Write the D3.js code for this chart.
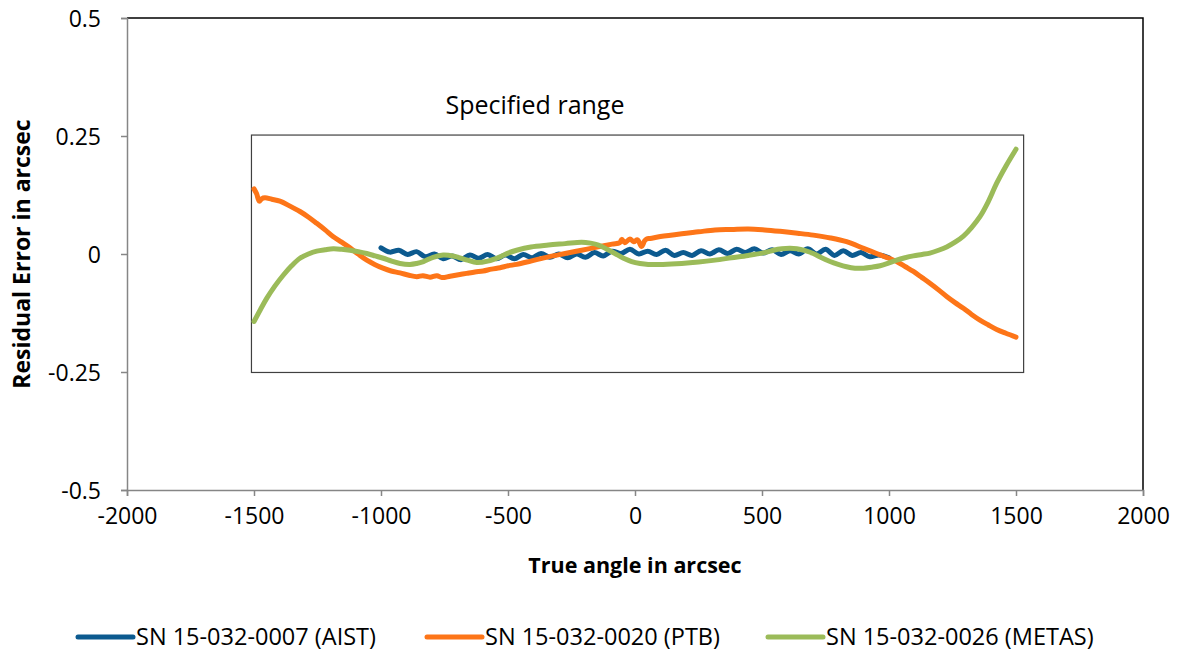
<!DOCTYPE html>
<html>
<head>
<meta charset="utf-8">
<script src="https://cdn.jsdelivr.net/npm/d3@7"></script>
<style>
  body { margin: 0; background: #fff; }
  svg { font-family: "Open Sans", sans-serif; }
</style>
</head>
<body>
<div id="chart"></div>
<script>
// Residual error curves, [true angle (arcsec), residual (arcsec)]
const aist = [
  [-1000, 0.013], [-965, 0.004], [-930, 0.008], [-895, -0.001], [-860, 0.005], [-825, -0.006],
  [-790, 0.000], [-755, -0.010], [-720, -0.004], [-685, -0.012], [-650, -0.002], [-615, -0.009],
  [-580, -0.001], [-545, -0.010], [-510, -0.002], [-475, -0.010], [-440, -0.001], [-405, -0.008],
  [-370, 0.001], [-335, -0.007], [-300, 0.000], [-265, -0.008], [-230, 0.000], [-195, -0.007],
  [-160, 0.003], [-125, -0.004], [-90, 0.006], [-55, 0.001], [-20, 0.010], [15, 0.000],
  [50, 0.006], [85, -0.001], [120, 0.008], [155, -0.003], [190, 0.003], [225, -0.003],
  [260, 0.007], [295, 0.000], [330, 0.009], [365, 0.001], [400, 0.010], [435, 0.003],
  [470, 0.011], [505, 0.002], [540, 0.009], [575, -0.001], [610, 0.007], [645, 0.000],
  [680, 0.011], [715, 0.000], [750, 0.010], [785, -0.003], [820, 0.007], [855, -0.003],
  [890, 0.003], [925, -0.006], [960, -0.002], [1000, -0.008]
];
const ptb = [
  [-1500, 0.138], [-1490, 0.128], [-1479, 0.112], [-1470, 0.117], [-1457, 0.119], [-1430, 0.116],
  [-1398, 0.112], [-1360, 0.102], [-1319, 0.090], [-1285, 0.078], [-1253, 0.065], [-1220, 0.051],
  [-1189, 0.037], [-1155, 0.025], [-1122, 0.013], [-1090, 0.000], [-1056, -0.013], [-1025, -0.022],
  [-992, -0.030], [-960, -0.036], [-925, -0.040], [-890, -0.045], [-859, -0.048], [-835, -0.046],
  [-807, -0.049], [-780, -0.046], [-760, -0.050], [-728, -0.047], [-695, -0.044], [-663, -0.041],
  [-630, -0.038], [-598, -0.036], [-565, -0.032], [-531, -0.029], [-500, -0.025], [-466, -0.022],
  [-410, -0.015], [-341, -0.006], [-275, 0.001], [-210, 0.008], [-145, 0.015], [-90, 0.021],
  [-60, 0.024], [-52, 0.031], [-40, 0.024], [-20, 0.032], [-5, 0.026], [10, 0.030],
  [26, 0.016], [38, 0.028], [46, 0.032], [60, 0.033], [100, 0.037], [184, 0.043], [250, 0.047],
  [315, 0.051], [380, 0.052], [446, 0.053], [510, 0.051], [571, 0.048], [640, 0.044],
  [702, 0.040], [770, 0.034], [833, 0.026], [900, 0.012], [965, -0.002], [1000, -0.009],
  [1030, -0.016], [1065, -0.027], [1096, -0.037], [1130, -0.050], [1161, -0.062], [1195, -0.076],
  [1227, -0.090], [1260, -0.103], [1293, -0.115], [1325, -0.128], [1358, -0.140], [1390, -0.150],
  [1424, -0.160], [1460, -0.168], [1500, -0.176]
];
const metas = [
  [-1500, -0.143], [-1475, -0.118], [-1450, -0.094], [-1418, -0.068], [-1385, -0.045], [-1352, -0.025],
  [-1319, -0.009], [-1286, 0.000], [-1253, 0.006], [-1220, 0.009], [-1188, 0.011], [-1155, 0.010],
  [-1122, 0.008], [-1089, 0.005], [-1056, 0.001], [-1023, -0.004], [-991, -0.009], [-958, -0.015],
  [-925, -0.020], [-886, -0.022], [-860, -0.020], [-833, -0.016], [-795, -0.007], [-755, -0.002],
  [-730, -0.003], [-702, -0.006], [-660, -0.013], [-623, -0.018], [-580, -0.015], [-531, -0.006],
  [-500, 0.002], [-466, 0.008], [-410, 0.015], [-341, 0.019], [-275, 0.022], [-210, 0.025],
  [-175, 0.023], [-144, 0.019], [-110, 0.010], [-79, 0.001], [-45, -0.009], [-13, -0.016],
  [20, -0.020], [52, -0.022], [110, -0.022], [184, -0.020], [250, -0.017], [315, -0.013],
  [380, -0.008], [446, -0.003], [510, 0.003], [545, 0.008], [578, 0.011], [610, 0.012],
  [637, 0.011], [670, 0.007], [702, 0.001], [735, -0.008], [768, -0.016], [800, -0.022],
  [833, -0.027], [866, -0.030], [899, -0.030], [932, -0.028], [965, -0.025], [1000, -0.019],
  [1030, -0.013], [1063, -0.008], [1096, -0.004], [1130, -0.001], [1161, 0.002], [1195, 0.008],
  [1227, 0.015], [1260, 0.025], [1293, 0.038], [1325, 0.056], [1358, 0.079], [1390, 0.110],
  [1424, 0.150], [1460, 0.186], [1500, 0.222]
];

const seriesNames = ["SN 15-032-0007 (AIST)", "SN 15-032-0020 (PTB)", "SN 15-032-0026 (METAS)"];
const seriesColors = ["#0c5a8f", "#fd7518", "#9bbb59"];
const xTicks = [-2000, -1500, -1000, -500, 0, 500, 1000, 1500, 2000];
const yTicks = [0.5, 0.25, 0, -0.25, -0.5];
const rangeX = [-1510, 1530];
const rangeY = [-0.251, 0.252];

const width = 1180, height = 655;
const margin = {top: 18, right: 37, bottom: 165, left: 127};

const svg = d3.select("#chart").append("svg").attr("width", width).attr("height", height);

const x = d3.scaleLinear([-2000, 2000], [margin.left, width - margin.right]);
const y = d3.scaleLinear([-0.5, 0.5], [height - margin.bottom, margin.top]);

// plot frame: black top/right, grey axes
svg.append("path")
  .attr("d", `M${x(-2000)},${y(0.5)}H${x(2000)}V${y(-0.5)}`)
  .attr("fill", "none").attr("stroke", "#000").attr("stroke-width", 1.5);

const xAxis = svg.append("g")
  .attr("transform", `translate(0,${y(-0.5)})`)
  .call(d3.axisBottom(x).tickValues(xTicks).tickSize(6).tickPadding(12).tickFormat((d) => String(d)));
const yAxis = svg.append("g")
  .attr("transform", `translate(${x(-2000)},0)`)
  .call(d3.axisLeft(y).tickValues(yTicks).tickSize(6).tickPadding(20).tickFormat((d) => String(d)));

for (const ax of [xAxis, yAxis]) {
  ax.select(".domain").attr("stroke", "#868686").attr("stroke-width", 1.5);
  ax.selectAll(".tick line").attr("stroke", "#868686").attr("stroke-width", 1.5);
  ax.selectAll(".tick text").attr("fill", "#000").style("font-size", "23px").style("font-family", "Open Sans");
}
yAxis.selectAll(".tick text").attr("dy", "0.36em");

// specified range box
svg.append("rect")
  .attr("x", x(rangeX[0])).attr("y", y(rangeY[1]))
  .attr("width", x(rangeX[1]) - x(rangeX[0]))
  .attr("height", y(rangeY[0]) - y(rangeY[1]))
  .attr("fill", "none").attr("stroke", "#404040").attr("stroke-width", 1.2);

svg.append("text")
  .attr("x", 535).attr("y", 114)
  .attr("text-anchor", "middle")
  .style("font-size", "25px")
  .text("Specified range");

// curves
const line = d3.line().x((d) => x(d[0])).y((d) => y(d[1])).curve(d3.curveCatmullRom.alpha(0.5));
[aist, ptb, metas].forEach((data, i) => {
  svg.append("path")
    .datum(data)
    .attr("d", line)
    .attr("fill", "none")
    .attr("stroke", seriesColors[i])
    .attr("stroke-width", 5)
    .attr("stroke-linecap", "round")
    .attr("stroke-linejoin", "round");
});

// axis titles
svg.append("text")
  .attr("x", x(0)).attr("y", 573)
  .attr("text-anchor", "middle")
  .style("font-size", "21.5px").style("font-weight", "bold")
  .text("True angle in arcsec");

svg.append("text")
  .attr("transform", `translate(30,${y(0)}) rotate(-90)`)
  .attr("text-anchor", "middle")
  .style("font-size", "23px").style("font-weight", "bold")
  .text("Residual Error in arcsec");

// legend
const legendX = [78, 427, 768];
const legend = svg.append("g");
seriesNames.forEach((name, i) => {
  const g = legend.append("g").attr("transform", `translate(${legendX[i]},637)`);
  g.append("line").attr("x1", 0).attr("x2", 55)
    .attr("stroke", seriesColors[i]).attr("stroke-width", 5).attr("stroke-linecap", "round");
  g.append("text").attr("x", 58).attr("dy", "0.36em")
    .style("font-size", "23.5px").text(name);
});
</script>
</body>
</html>
